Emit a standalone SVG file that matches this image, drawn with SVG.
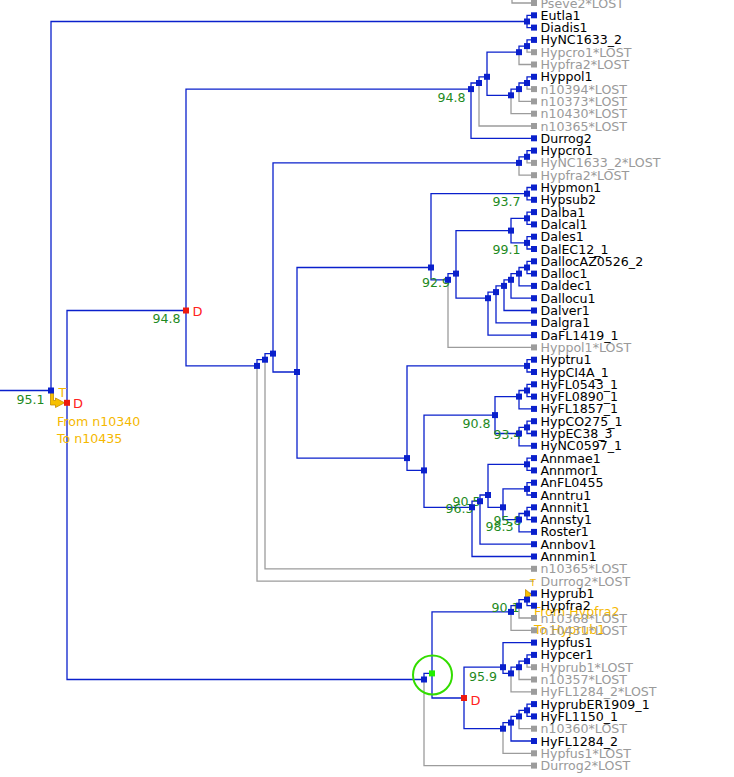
<svg xmlns="http://www.w3.org/2000/svg" width="734" height="777" viewBox="0 0 734 777">
<style>
.e{fill:none;stroke:#0a20cc;stroke-width:1.3}
.g{fill:none;stroke:#9c9c9c;stroke-width:1.3}
.nb{fill:#0a20cc}
.ng{fill:#9c9c9c}
.nr{fill:#ee1a10}
.t{font-family:"DejaVu Sans","Liberation Sans",sans-serif;font-size:12.6px;fill:#000}
.tl{fill:#9a9a9a}
.bs{font-family:"DejaVu Sans","Liberation Sans",sans-serif;font-size:12.6px;fill:#1e8a1e;text-anchor:end}
.dl{font-family:"DejaVu Sans","Liberation Sans",sans-serif;font-size:13px;fill:#ff2020}
.or{font-family:"DejaVu Sans","Liberation Sans",sans-serif;font-size:12.6px;fill:#f5b800}
</style>
<rect width="734" height="777" fill="#fff"/>
<g id="connectors">
<path class="e" d="M0,390.5H51M51,390.5V21.5H527M527,21.5V15.3H534M527,21.5V27.6H534"/>
<path class="e" d="M67,402.8V310.5H186M67,402.8V679.5H424"/>
<path class="e" d="M186,310.5V89.1H471M186,310.5V365.9H257"/>
<path class="e" d="M471,89.1V83H479M471,89.1V138.3H534M479,83V76.8H487M487,76.8V52.2H519M487,76.8V95.3H511M519,52.2V46.1H527M527,46.1V39.9H534M511,95.3V89.1H519M519,89.1V83H527M527,83V76.8H534"/>
<path class="g" d="M479,83V126H534M519,52.2V64.5H534M527,46.1V52.2H534M511,95.3V113.7H534M519,89.1V101.4H534M527,83V89.1H534M512,0V3H534"/>
<path class="e" d="M257,365.9V359.7H265M265,359.7V353.6H273M273,353.6V162.9H519M273,353.6V372H297M519,162.9V156.8H527M527,156.8V150.6H534"/>
<path class="g" d="M257,365.9V581.1H534M265,359.7V568.8H534M519,162.9V175.2H534M527,156.8V162.9H534"/>
<path class="e" d="M297,372V267.5H431M297,372V458.1H407M431,267.5V193.7H527M431,267.5V279.8H448M527,193.7V187.5H534M527,193.7V199.8H534M448,279.8V273.6H456M456,273.6V230.6H511M456,273.6V298.2H488M511,230.6V218.3H527M511,230.6V242.9H527M527,218.3V212.1H534M527,218.3V224.4H534M527,242.9V236.7H534M527,242.9V249H534"/>
<path class="g" d="M448,279.8V347.4H534"/>
<path class="e" d="M488,298.2V292.1H496M488,298.2V335.1H534M496,292.1V285.9H504M496,292.1V322.8H534M504,285.9V279.8H511M504,285.9V310.5H534M511,279.8V273.6H519M511,279.8V298.2H534M519,273.6V267.5H527M519,273.6V285.9H534M527,267.5V261.3H534M527,267.5V273.6H534"/>
<path class="e" d="M407,458.1V365.9H527M407,458.1V470.4H424M527,365.9V359.7H534M527,365.9V372H534M424,470.4V415.1H495M424,470.4V507.3H472M495,415.1V396.6H519M495,415.1V433.5H519M519,396.6V390.5H527M519,396.6V408.9H534M527,390.5V384.3H534M527,390.5V396.6H534M519,433.5V427.4H527M519,433.5V445.8H534M527,427.4V421.2H534M527,427.4V433.5H534"/>
<path class="e" d="M472,507.3V501.2H480M472,507.3V556.5H534M480,501.2V495H488M480,501.2V544.2H534M488,495V464.3H527M488,495V507.3H503M527,464.3V458.1H534M527,464.3V470.4H534M503,507.3V488.9H527M503,507.3V519.6H519M527,488.9V482.7H534M527,488.9V495H534M519,519.6V513.5H527M519,519.6V531.9H534M527,513.5V507.3H534M527,513.5V519.6H534"/>
<path class="e" d="M424,679.5V673.4H432M432,673.4V611.9H511M432,673.4V698H464M511,611.9V605.7H519M519,605.7V599.6H527M527,599.6V593.4H534M527,599.6V605.7H534"/>
<path class="g" d="M424,679.5V765.6H534M511,611.9V630.3H534M519,605.7V618H534"/>
<path class="e" d="M464,698V667.2H503M464,698V728.7H503M503,667.2V642.6H534M503,667.2V673.4H511M511,673.4V667.2H519M519,667.2V661.1H527M527,661.1V654.9H534M503,728.7V722.6H511M511,722.6V716.4H519M511,722.6V741H534M519,716.4V710.3H527M527,710.3V704.1H534M527,710.3V716.4H534"/>
<path class="g" d="M511,673.4V691.8H534M519,667.2V679.5H534M527,661.1V667.2H534M503,728.7V753.3H534M519,716.4V728.7H534"/>
</g>
<g id="transfers">
<path d="M50.5,392H53.5V400.5H55.5V398L64.5,402.8L55.5,407.5V405H50.5Z" fill="#f7c000" stroke="#c48c00" stroke-width="0.8"/>
<text class="or" x="58.5" y="397">T</text>
<text class="or" x="57" y="426">From n10340</text>
<text class="or" x="57" y="442.5">To n10435</text>
<path d="M525.5,589.5V598L532,595Z" fill="#f7c000" stroke="#c48c00" stroke-width="0.8"/>
<text class="or" x="530" y="585.8" style="font-size:9.5px">T</text>
<text class="or" x="534" y="616">From Hypfra2</text>
<text class="or" x="534" y="633.5">To Hyprub1</text>
</g>
<g id="support">
<text class="bs" x="44.5" y="403.5">95.1</text>
<text class="bs" x="180.5" y="323">94.8</text>
<text class="bs" x="465.5" y="101.5">94.8</text>
<text class="bs" x="520.5" y="205.5">93.7</text>
<text class="bs" x="520.5" y="253.5">99.1</text>
<text class="bs" x="450" y="286.5">92.9</text>
<text class="bs" x="490.5" y="427.5">90.8</text>
<text class="bs" x="521.5" y="439">93.4</text>
<text class="bs" x="480.5" y="505.5">90.5</text>
<text class="bs" x="473.5" y="513">96.3</text>
<text class="bs" x="521.5" y="524.5">95.8</text>
<text class="bs" x="513.5" y="531">98.3</text>
<text class="bs" x="519.5" y="611.5">90.1</text>
<text class="bs" x="497" y="680.5">95.9</text>
</g>
<g id="internal-nodes">
<g id="root"><rect class="nb" x="48" y="387.5" width="6" height="6"/></g>
<g id="n-eutla"><rect class="nb" x="524" y="18.5" width="6" height="6"/></g>
<g id="dup1"><rect class="nr" x="64" y="399.8" width="6" height="6"/><text class="dl" x="73" y="408">D</text></g>
<g id="dup2"><rect class="nr" x="183" y="307.5" width="6" height="6"/><text class="dl" x="192.5" y="316">D</text></g>
<g id="nA"><rect class="nb" x="468" y="86.1" width="6" height="6"/></g>
<g id="nB"><rect class="nb" x="476" y="80" width="6" height="6"/></g>
<g id="nC"><rect class="nb" x="484" y="73.8" width="6" height="6"/></g>
<g id="nE"><rect class="nb" x="516" y="49.2" width="6" height="6"/></g>
<g id="nG"><rect class="nb" x="524" y="43.1" width="6" height="6"/></g>
<g id="nF"><rect class="nb" x="508" y="92.3" width="6" height="6"/></g>
<g id="nH"><rect class="nb" x="516" y="86.1" width="6" height="6"/></g>
<g id="nI"><rect class="nb" x="524" y="80" width="6" height="6"/></g>
<g id="nL3"><rect class="nb" x="254" y="362.9" width="6" height="6"/></g>
<g id="nL2"><rect class="nb" x="262" y="356.7" width="6" height="6"/></g>
<g id="nL"><rect class="nb" x="270" y="350.6" width="6" height="6"/></g>
<g id="nJ"><rect class="nb" x="516" y="159.9" width="6" height="6"/></g>
<g id="nK"><rect class="nb" x="524" y="153.8" width="6" height="6"/></g>
<g id="nM"><rect class="nb" x="294" y="369" width="6" height="6"/></g>
<g id="nN"><rect class="nb" x="428" y="264.5" width="6" height="6"/></g>
<g id="nP"><rect class="nb" x="524" y="190.7" width="6" height="6"/></g>
<g id="nR"><rect class="nb" x="445" y="276.8" width="6" height="6"/></g>
<g id="nS"><rect class="nb" x="453" y="270.6" width="6" height="6"/></g>
<g id="nT"><rect class="nb" x="508" y="227.6" width="6" height="6"/></g>
<g id="nV"><rect class="nb" x="524" y="215.3" width="6" height="6"/></g>
<g id="nW"><rect class="nb" x="524" y="239.9" width="6" height="6"/></g>
<g id="nU"><rect class="nb" x="485" y="295.2" width="6" height="6"/></g>
<g id="nU1"><rect class="nb" x="493" y="289.1" width="6" height="6"/></g>
<g id="nU2"><rect class="nb" x="501" y="282.9" width="6" height="6"/></g>
<g id="nU3"><rect class="nb" x="508" y="276.8" width="6" height="6"/></g>
<g id="nU4"><rect class="nb" x="516" y="270.6" width="6" height="6"/></g>
<g id="nU5"><rect class="nb" x="524" y="264.5" width="6" height="6"/></g>
<g id="nO"><rect class="nb" x="404" y="455.1" width="6" height="6"/></g>
<g id="nX"><rect class="nb" x="524" y="362.9" width="6" height="6"/></g>
<g id="nY"><rect class="nb" x="421" y="467.4" width="6" height="6"/></g>
<g id="nZ"><rect class="nb" x="492" y="412.1" width="6" height="6"/></g>
<g id="nAI"><rect class="nb" x="516" y="393.6" width="6" height="6"/></g>
<g id="nAK"><rect class="nb" x="524" y="387.5" width="6" height="6"/></g>
<g id="nAJ"><rect class="nb" x="516" y="430.5" width="6" height="6"/></g>
<g id="nAL"><rect class="nb" x="524" y="424.4" width="6" height="6"/></g>
<g id="nAA"><rect class="nb" x="469" y="504.3" width="6" height="6"/></g>
<g id="nAB"><rect class="nb" x="477" y="498.2" width="6" height="6"/></g>
<g id="nAC"><rect class="nb" x="485" y="492" width="6" height="6"/></g>
<g id="nAH"><rect class="nb" x="524" y="461.3" width="6" height="6"/></g>
<g id="nAD"><rect class="nb" x="500" y="504.3" width="6" height="6"/></g>
<g id="nAF"><rect class="nb" x="524" y="485.9" width="6" height="6"/></g>
<g id="nAE"><rect class="nb" x="516" y="516.6" width="6" height="6"/></g>
<g id="nAG"><rect class="nb" x="524" y="510.5" width="6" height="6"/></g>
<g id="nCN"><circle cx="432.5" cy="675" r="19.5" fill="none" stroke="#33dd00" stroke-width="2"/><rect class="nb" x="421" y="676.5" width="6" height="6"/></g>
<g id="nGN"><rect x="429" y="670.4" width="6" height="6" fill="#22ee00"/></g>
<g id="nH1"><rect class="nb" x="508" y="608.9" width="6" height="6"/></g>
<g id="nH2"><rect class="nb" x="516" y="602.7" width="6" height="6"/></g>
<g id="nH3"><rect class="nb" x="524" y="596.6" width="6" height="6"/></g>
<g id="dup3"><rect class="nr" x="461" y="695" width="6" height="6"/><text class="dl" x="470.5" y="704.5">D</text></g>
<g id="nBA"><rect class="nb" x="500" y="664.2" width="6" height="6"/></g>
<g id="nBB"><rect class="nb" x="508" y="670.4" width="6" height="6"/></g>
<g id="nBC"><rect class="nb" x="516" y="664.2" width="6" height="6"/></g>
<g id="nBD"><rect class="nb" x="524" y="658.1" width="6" height="6"/></g>
<g id="nBE"><rect class="nb" x="500" y="725.7" width="6" height="6"/></g>
<g id="nBF"><rect class="nb" x="508" y="719.6" width="6" height="6"/></g>
<g id="nBG"><rect class="nb" x="516" y="713.4" width="6" height="6"/></g>
<g id="nBH"><rect class="nb" x="524" y="707.3" width="6" height="6"/></g>
</g>
<g id="leaves">
<g id="l0"><rect class="ng" x="531" y="0" width="6" height="6"/><text class="t tl" x="540.5" y="7.5">Pseve2*LOST</text></g>
<g id="l1"><rect class="nb" x="531" y="12.3" width="6" height="6"/><text class="t" x="540.5" y="19.8">Eutla1</text></g>
<g id="l2"><rect class="nb" x="531" y="24.6" width="6" height="6"/><text class="t" x="540.5" y="32.1">Diadis1</text></g>
<g id="l3"><rect class="nb" x="531" y="36.9" width="6" height="6"/><text class="t" x="540.5" y="44.4">HyNC1633_2</text></g>
<g id="l4"><rect class="ng" x="531" y="49.2" width="6" height="6"/><text class="t tl" x="540.5" y="56.7">Hypcro1*LOST</text></g>
<g id="l5"><rect class="ng" x="531" y="61.5" width="6" height="6"/><text class="t tl" x="540.5" y="69">Hypfra2*LOST</text></g>
<g id="l6"><rect class="nb" x="531" y="73.8" width="6" height="6"/><text class="t" x="540.5" y="81.3">Hyppol1</text></g>
<g id="l7"><rect class="ng" x="531" y="86.1" width="6" height="6"/><text class="t tl" x="540.5" y="93.6">n10394*LOST</text></g>
<g id="l8"><rect class="ng" x="531" y="98.4" width="6" height="6"/><text class="t tl" x="540.5" y="105.9">n10373*LOST</text></g>
<g id="l9"><rect class="ng" x="531" y="110.7" width="6" height="6"/><text class="t tl" x="540.5" y="118.2">n10430*LOST</text></g>
<g id="l10"><rect class="ng" x="531" y="123" width="6" height="6"/><text class="t tl" x="540.5" y="130.5">n10365*LOST</text></g>
<g id="l11"><rect class="nb" x="531" y="135.3" width="6" height="6"/><text class="t" x="540.5" y="142.8">Durrog2</text></g>
<g id="l12"><rect class="nb" x="531" y="147.6" width="6" height="6"/><text class="t" x="540.5" y="155.1">Hypcro1</text></g>
<g id="l13"><rect class="ng" x="531" y="159.9" width="6" height="6"/><text class="t tl" x="540.5" y="167.4">HyNC1633_2*LOST</text></g>
<g id="l14"><rect class="ng" x="531" y="172.2" width="6" height="6"/><text class="t tl" x="540.5" y="179.7">Hypfra2*LOST</text></g>
<g id="l15"><rect class="nb" x="531" y="184.5" width="6" height="6"/><text class="t" x="540.5" y="192">Hypmon1</text></g>
<g id="l16"><rect class="nb" x="531" y="196.8" width="6" height="6"/><text class="t" x="540.5" y="204.3">Hypsub2</text></g>
<g id="l17"><rect class="nb" x="531" y="209.1" width="6" height="6"/><text class="t" x="540.5" y="216.6">Dalba1</text></g>
<g id="l18"><rect class="nb" x="531" y="221.4" width="6" height="6"/><text class="t" x="540.5" y="228.9">Dalcal1</text></g>
<g id="l19"><rect class="nb" x="531" y="233.7" width="6" height="6"/><text class="t" x="540.5" y="241.2">Dales1</text></g>
<g id="l20"><rect class="nb" x="531" y="246" width="6" height="6"/><text class="t" x="540.5" y="253.5">DalEC12_1</text></g>
<g id="l21"><rect class="nb" x="531" y="258.3" width="6" height="6"/><text class="t" x="540.5" y="265.8">DallocAZ0526_2</text></g>
<g id="l22"><rect class="nb" x="531" y="270.6" width="6" height="6"/><text class="t" x="540.5" y="278.1">Dalloc1</text></g>
<g id="l23"><rect class="nb" x="531" y="282.9" width="6" height="6"/><text class="t" x="540.5" y="290.4">Daldec1</text></g>
<g id="l24"><rect class="nb" x="531" y="295.2" width="6" height="6"/><text class="t" x="540.5" y="302.7">Dallocu1</text></g>
<g id="l25"><rect class="nb" x="531" y="307.5" width="6" height="6"/><text class="t" x="540.5" y="315">Dalver1</text></g>
<g id="l26"><rect class="nb" x="531" y="319.8" width="6" height="6"/><text class="t" x="540.5" y="327.3">Dalgra1</text></g>
<g id="l27"><rect class="nb" x="531" y="332.1" width="6" height="6"/><text class="t" x="540.5" y="339.6">DaFL1419_1</text></g>
<g id="l28"><rect class="ng" x="531" y="344.4" width="6" height="6"/><text class="t tl" x="540.5" y="351.9">Hyppol1*LOST</text></g>
<g id="l29"><rect class="nb" x="531" y="356.7" width="6" height="6"/><text class="t" x="540.5" y="364.2">Hyptru1</text></g>
<g id="l30"><rect class="nb" x="531" y="369" width="6" height="6"/><text class="t" x="540.5" y="376.5">HypCI4A_1</text></g>
<g id="l31"><rect class="nb" x="531" y="381.3" width="6" height="6"/><text class="t" x="540.5" y="388.8">HyFL0543_1</text></g>
<g id="l32"><rect class="nb" x="531" y="393.6" width="6" height="6"/><text class="t" x="540.5" y="401.1">HyFL0890_1</text></g>
<g id="l33"><rect class="nb" x="531" y="405.9" width="6" height="6"/><text class="t" x="540.5" y="413.4">HyFL1857_1</text></g>
<g id="l34"><rect class="nb" x="531" y="418.2" width="6" height="6"/><text class="t" x="540.5" y="425.7">HypCO275_1</text></g>
<g id="l35"><rect class="nb" x="531" y="430.5" width="6" height="6"/><text class="t" x="540.5" y="438">HypEC38_3</text></g>
<g id="l36"><rect class="nb" x="531" y="442.8" width="6" height="6"/><text class="t" x="540.5" y="450.3">HyNC0597_1</text></g>
<g id="l37"><rect class="nb" x="531" y="455.1" width="6" height="6"/><text class="t" x="540.5" y="462.6">Annmae1</text></g>
<g id="l38"><rect class="nb" x="531" y="467.4" width="6" height="6"/><text class="t" x="540.5" y="474.9">Annmor1</text></g>
<g id="l39"><rect class="nb" x="531" y="479.7" width="6" height="6"/><text class="t" x="540.5" y="487.2">AnFL0455</text></g>
<g id="l40"><rect class="nb" x="531" y="492" width="6" height="6"/><text class="t" x="540.5" y="499.5">Anntru1</text></g>
<g id="l41"><rect class="nb" x="531" y="504.3" width="6" height="6"/><text class="t" x="540.5" y="511.8">Annnit1</text></g>
<g id="l42"><rect class="nb" x="531" y="516.6" width="6" height="6"/><text class="t" x="540.5" y="524.1">Annsty1</text></g>
<g id="l43"><rect class="nb" x="531" y="528.9" width="6" height="6"/><text class="t" x="540.5" y="536.4">Roster1</text></g>
<g id="l44"><rect class="nb" x="531" y="541.2" width="6" height="6"/><text class="t" x="540.5" y="548.7">Annbov1</text></g>
<g id="l45"><rect class="nb" x="531" y="553.5" width="6" height="6"/><text class="t" x="540.5" y="561">Annmin1</text></g>
<g id="l46"><rect class="ng" x="531" y="565.8" width="6" height="6"/><text class="t tl" x="540.5" y="573.3">n10365*LOST</text></g>
<g id="l47"><text class="t tl" x="540.5" y="585.6">Durrog2*LOST</text></g>
<g id="l48"><rect class="nb" x="531" y="590.4" width="6" height="6"/><text class="t" x="540.5" y="597.9">Hyprub1</text></g>
<g id="l49"><rect class="nb" x="531" y="602.7" width="6" height="6"/><text class="t" x="540.5" y="610.2">Hypfra2</text></g>
<g id="l50"><rect class="ng" x="531" y="615" width="6" height="6"/><text class="t tl" x="540.5" y="622.5">n10368*LOST</text></g>
<g id="l51"><rect class="ng" x="531" y="627.3" width="6" height="6"/><text class="t tl" x="540.5" y="634.8">n10431*LOST</text></g>
<g id="l52"><rect class="nb" x="531" y="639.6" width="6" height="6"/><text class="t" x="540.5" y="647.1">Hypfus1</text></g>
<g id="l53"><rect class="nb" x="531" y="651.9" width="6" height="6"/><text class="t" x="540.5" y="659.4">Hypcer1</text></g>
<g id="l54"><rect class="ng" x="531" y="664.2" width="6" height="6"/><text class="t tl" x="540.5" y="671.7">Hyprub1*LOST</text></g>
<g id="l55"><rect class="ng" x="531" y="676.5" width="6" height="6"/><text class="t tl" x="540.5" y="684">n10357*LOST</text></g>
<g id="l56"><rect class="ng" x="531" y="688.8" width="6" height="6"/><text class="t tl" x="540.5" y="696.3">HyFL1284_2*LOST</text></g>
<g id="l57"><rect class="nb" x="531" y="701.1" width="6" height="6"/><text class="t" x="540.5" y="708.6">HyprubER1909_1</text></g>
<g id="l58"><rect class="nb" x="531" y="713.4" width="6" height="6"/><text class="t" x="540.5" y="720.9">HyFL1150_1</text></g>
<g id="l59"><rect class="ng" x="531" y="725.7" width="6" height="6"/><text class="t tl" x="540.5" y="733.2">n10360*LOST</text></g>
<g id="l60"><rect class="nb" x="531" y="738" width="6" height="6"/><text class="t" x="540.5" y="745.5">HyFL1284_2</text></g>
<g id="l61"><rect class="ng" x="531" y="750.3" width="6" height="6"/><text class="t tl" x="540.5" y="757.8">Hypfus1*LOST</text></g>
<g id="l62"><rect class="ng" x="531" y="762.6" width="6" height="6"/><text class="t tl" x="540.5" y="770.1">Durrog2*LOST</text></g>
</g>
</svg>
